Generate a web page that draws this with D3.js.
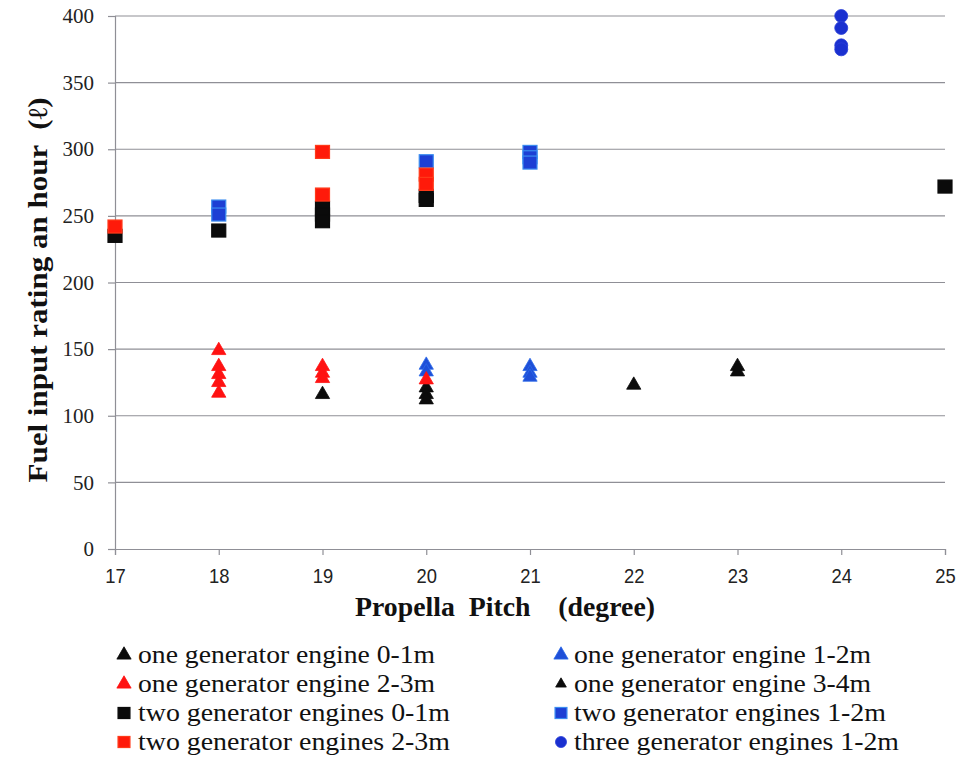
<!DOCTYPE html>
<html><head><meta charset="utf-8">
<script src="https://cdn.jsdelivr.net/npm/d3@7"></script>
<style>body{margin:0;background:#fff}svg{display:block}</style>
</head><body><svg id="c" width="960" height="757"></svg>
<script>
const xTicks = [17,18,19,20,21,22,23,24,25];
const yTicks = [0,50,100,150,200,250,300,350,400];
const seriesNames = [
  "one generator engine 0-1m","one generator engine 1-2m",
  "one generator engine 2-3m","one generator engine 3-4m",
  "two generator engines 0-1m","two generator engines 1-2m",
  "two generator engines 2-3m","three generator engines 1-2m"];
// [pitch, fuel]
const oneGen01 = [[19,116],[20,121],[20,116],[20,112]];
const oneGen12 = [[20,138],[20,133],[21,137],[21,132],[21,129]];
const oneGen23 = [[18,149],[18,137],[18,131],[18,125],[18,117],[19,137],[19,132],[19,128],[20,127]];
const oneGen34 = [[22,123],[23,137],[23,133]];
const twoGen01 = [[17,235],[18,239],[19,256],[19,251],[19,246],[20,265],[20,262],[25,272]];
const twoGen12 = [[18,257],[18,251],[20,291],[21,298],[21,294],[21,290]];
const twoGen23 = [[17,242],[19,298],[19,266],[20,281],[20,274]];
const threeGen12 = [[24,400],[24,391],[24,378],[24,375]];

const seriesData = [oneGen01, oneGen12, oneGen23, oneGen34, twoGen01, twoGen12, twoGen23, threeGen12];
const shapes = ["tri","tri","tri","tri","sq","sq","sq","circ"];
const fills = ["#0b0b0b","#1f4fd8","#ff1212","#0b0b0b","#0b0b0b","#1d3fd4","#ff1a0a","#1a30d0"];
const strokes = ["#0b0b0b","#2a6ae8","#ff1212","#0b0b0b","#0b0b0b","#3a8cf0","#ff3a1a","#2a3fd8"];

const svg = d3.select("#c");
const x = d3.scaleLinear().domain([17,25]).range([115,945]);
const y = d3.scaleLinear().domain([0,400]).range([549,16]);

// gridlines
svg.append("g").selectAll("line").data(yTicks.filter(d=>d>0)).join("line")
  .attr("x1",x(17)).attr("x2",x(25)).attr("y1",d=>y(d)).attr("y2",d=>y(d))
  .attr("stroke","#8f8f96").attr("stroke-width",1.2);

// y axis
const ya = svg.append("g").attr("transform",`translate(${x(17)},0)`)
  .call(d3.axisLeft(y).tickValues(yTicks).tickSize(7).tickPadding(14).tickFormat(d3.format("d")));
ya.select(".domain").attr("stroke","#8f8f96").attr("stroke-width",1.2);
ya.selectAll(".tick line").attr("stroke","#8f8f96").attr("stroke-width",1.2);
ya.selectAll("text").attr("font-family","'Liberation Serif', serif").attr("font-size",21).attr("fill","#222");

// x axis
const xa = svg.append("g").attr("transform",`translate(0,${y(0)})`)
  .call(d3.axisBottom(x).tickValues(xTicks).tickSize(6).tickPadding(14).tickFormat(d3.format("d")));
xa.select(".domain").attr("stroke","#8f8f96").attr("stroke-width",1.2);
xa.selectAll(".tick line").attr("stroke","#8f8f96").attr("stroke-width",1.2);
xa.selectAll("text").attr("font-family","'Liberation Sans', Arial, sans-serif").attr("font-size",20).attr("fill","#222")
  .attr("transform","scale(0.92,1)");

// titles
svg.append("text").attr("x",505).attr("y",616).attr("text-anchor","middle")
  .attr("font-family","'Liberation Serif', serif").attr("font-weight","bold").attr("font-size",27)
  .attr("fill","#111").attr("textLength",300).attr("lengthAdjust","spacingAndGlyphs")
  .attr("xml:space","preserve").text("Propella  Pitch    (degree)");
svg.append("text").attr("transform","translate(47,290) rotate(-90)").attr("text-anchor","middle")
  .attr("font-family","'Liberation Serif', serif").attr("font-weight","bold").attr("font-size",27)
  .attr("fill","#111").attr("textLength",385).attr("lengthAdjust","spacingAndGlyphs")
  .attr("xml:space","preserve").text("Fuel input rating an hour  (ℓ)");

function drawMark(g, shape, cx, cy, fill, stroke, scale){
  scale = scale || 1;
  if (shape==="tri") {
    g.append("path").attr("d", d3.symbol().type(d3.symbolTriangle).size(88*scale*scale)())
      .attr("transform",`translate(${cx},${cy})`).attr("fill",fill).attr("stroke",stroke).attr("stroke-width",0.8);
  } else if (shape==="sq") {
    g.append("rect").attr("x",cx-7*scale).attr("y",cy-6.5*scale).attr("width",14*scale).attr("height",13*scale)
      .attr("fill",fill).attr("stroke",stroke).attr("stroke-width",1.2);
  } else {
    g.append("circle").attr("cx",cx).attr("cy",cy).attr("r",6.5*scale)
      .attr("fill",fill).attr("stroke",stroke).attr("stroke-width",0.8);
  }
}

// points
const pg = svg.append("g");
seriesData.forEach((arr,i)=>{
  arr.forEach(d=>drawMark(pg, shapes[i], x(d[0]), y(d[1]), fills[i], strokes[i]));
});

// legend
const legX = [124, 561];
const legTextX = [138, 574];
const legBase = [663, 692, 721, 750];
const legWidths = [297, 297, 297, 297, 312, 312, 312, 325];
const legScale = [1,1,1,0.75,0.85,0.85,0.85,0.85];
const lg = svg.append("g");
seriesNames.forEach((name,i)=>{
  const col = i%2, row = Math.floor(i/2);
  drawMark(lg, shapes[i], legX[col], legBase[row]-8, fills[i], strokes[i], legScale[i]);
  lg.append("text").attr("x",legTextX[col]).attr("y",legBase[row])
    .attr("font-family","'Liberation Serif', serif").attr("font-size",25).attr("fill","#111")
    .attr("textLength",legWidths[i]).attr("lengthAdjust","spacingAndGlyphs").text(name);
});
</script></body></html>
